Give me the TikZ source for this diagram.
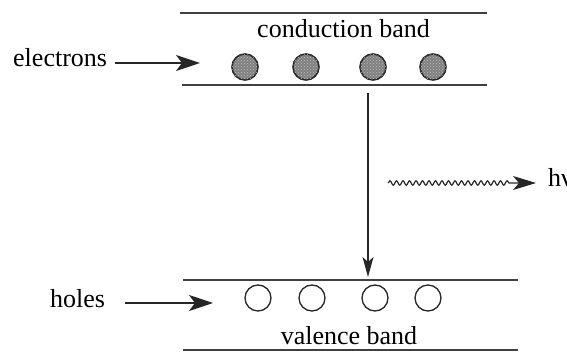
\documentclass[tikz,border=0pt]{standalone}
\usepackage{fontspec}
\setmainfont{Liberation Serif}
\usetikzlibrary{arrows.meta,decorations.pathmorphing,patterns}
\begin{document}
\begin{tikzpicture}[x=1pt,y=1pt,
  band/.style={line width=1.8pt,draw=black!75},
  lbl/.style={font=\fontsize{26}{30}\selectfont,inner sep=0pt},
  elec/.style={circle,draw=black!85,line width=1.6pt,fill=black!50,minimum size=26pt,inner sep=0pt,
    postaction={pattern=crosshatch dots,pattern color=white!75!black}},
  hole/.style={circle,draw=black!85,line width=1.3pt,fill=white,minimum size=26pt,inner sep=0pt},
  bigarr/.style={line width=1.6pt,draw=black!85,-{Stealth[length=24pt,width=16pt,inset=6pt]}},
  vertarr/.style={line width=1.3pt,draw=black!85,-{Stealth[length=20pt,width=11pt,inset=5pt]}}]
\useasboundingbox (0,0) rectangle (567,353);
% band lines
\coordinate (cTopL) at (180,340);
\coordinate (cTopR) at (487,340);
\coordinate (cBotL) at (182,268);
\coordinate (cBotR) at (487,268);
\coordinate (vTopL) at (183,73);
\coordinate (vTopR) at (518,73);
\coordinate (vBotL) at (183,3);
\coordinate (vBotR) at (518,3);
\draw[band] (cTopL) -- (cTopR);
\draw[band] (cBotL) -- (cBotR);
\draw[band] (vTopL) -- (vTopR);
\draw[band] (vBotL) -- (vBotR);
% labels
\node[lbl,anchor=base] (cb) at (343.5,315) {conduction band};
\node[lbl,anchor=base] (vb) at (349,8) {valence band};
\node[lbl,anchor=base west] (el) at (13,286) {electrons};
\node[lbl,anchor=base west] (ho) at (50,45) {holes};
\node[lbl,anchor=base west] (hv) at (548,166) {hν};
% electrons
\node[elec] (e1) at (245,286) {};
\node[elec] (e2) at (306,286) {};
\node[elec] (e3) at (373,286) {};
\node[elec] (e4) at (433,286) {};
% holes
\node[hole] (h1) at (258,55) {};
\node[hole] (h2) at (312,55) {};
\node[hole] (h3) at (375,55) {};
\node[hole] (h4) at (428,55) {};
% arrows
\coordinate (elA) at (115,290);
\coordinate (elB) at (200,290);
\draw[bigarr] (elA) -- (elB);
\coordinate (hoA) at (125,50);
\coordinate (hoB) at (213,50);
\draw[bigarr] (hoA) -- (hoB);
\coordinate (trA) at (368,260);
\coordinate (trB) at (368,76);
\draw[vertarr] (trA) -- (trB);
\coordinate (wA) at (388,170);
\coordinate (wB) at (536,170);
\draw[line width=1.2pt,draw=black!85,-{Stealth[length=23pt,width=14pt,inset=6pt]},
  decorate,decoration={snake,amplitude=2.2pt,segment length=6.5pt,post length=26pt}] (wA) -- (wB);
\end{tikzpicture}
\end{document}
